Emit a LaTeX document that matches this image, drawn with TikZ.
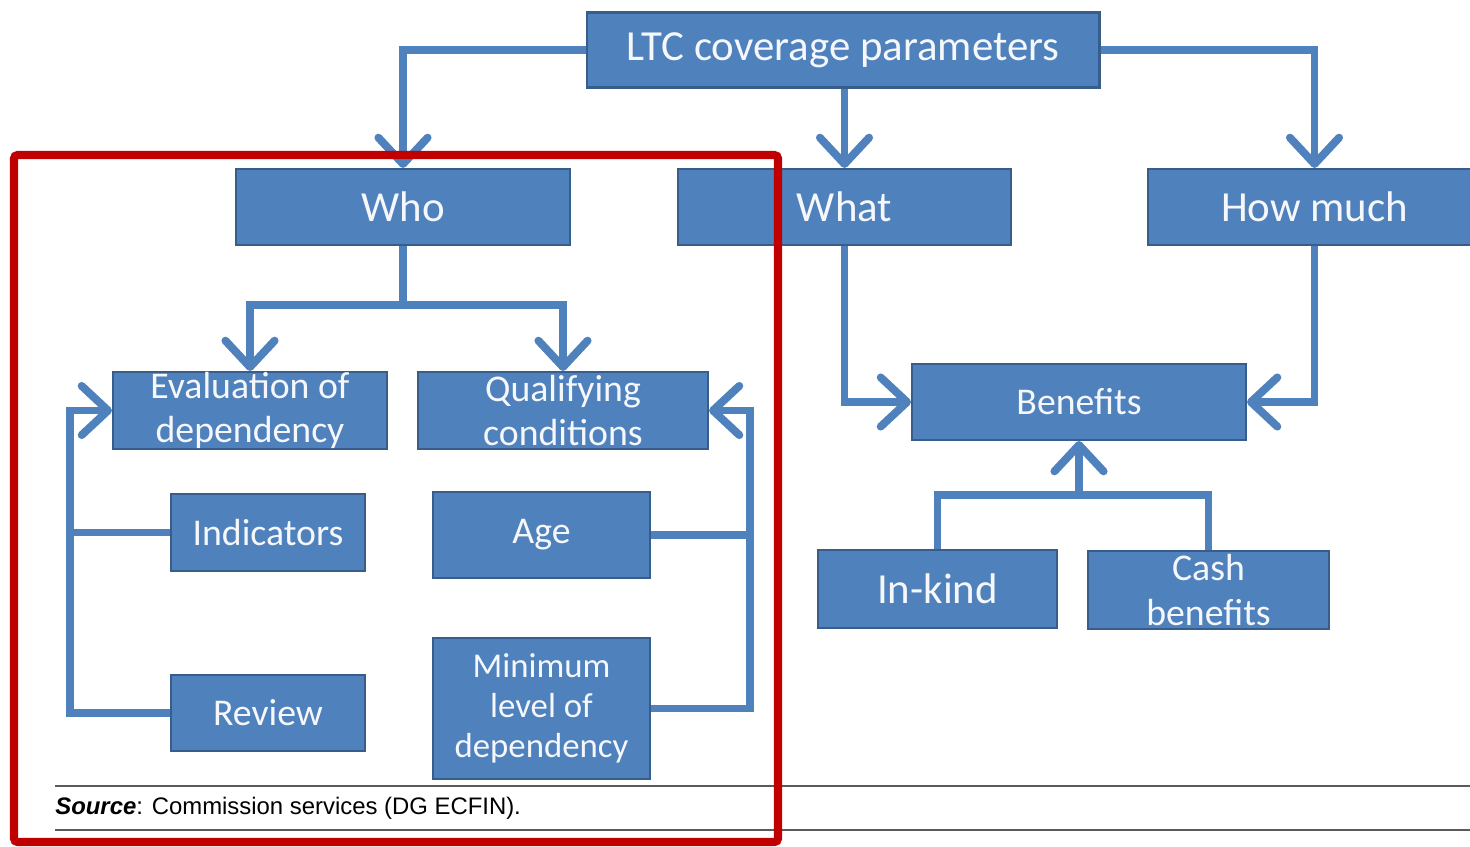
\documentclass[tikz,border=0pt]{standalone}
\usepackage{fontspec}
\setmainfont{Carlito}
\newfontfamily\srcfont{Liberation Sans}
\usetikzlibrary{arrows.meta}
\definecolor{boxblue}{HTML}{4F81BD}
\definecolor{boxedge}{HTML}{385D8A}
\definecolor{framered}{HTML}{C00000}
\definecolor{rulegray}{HTML}{5A5A5A}
\tikzset{
  box/.style={rectangle, fill=boxblue, draw=boxedge, line width=1.2pt, inner sep=0pt},
  boxtext/.style={text=white!94!boxblue, align=center, inner sep=0pt},
  big/.style={label={[boxtext,font=\fontsize{24.4}{28}\selectfont]center:#1}},
  mid/.style={label={[boxtext,font=\fontsize{21.5}{25.5}\selectfont]center:#1}},
  small/.style={label={[boxtext,font=\fontsize{19.8}{22.7}\selectfont]center:#1}},
  conn/.style={draw=boxblue, line width=4.5pt},
  arr/.style={conn, -{Straight Barb[length=15pt,width=28pt,round]}},
  rule/.style={draw=rulegray, line width=1.1pt}
}
\begin{document}
\begin{tikzpicture}[x=0.02cm, y=-0.02cm]
  \clip (0,0) rectangle (1470,846);
  \fill[white] (0,0) rectangle (1470,846);

  % top level
  \node[box, minimum width=10.26cm, minimum height=1.5cm, big={LTC coverage parameters}] (ltc) at (843,50) {};
  \node[box, minimum width=6.68cm, minimum height=1.52cm, big={Who}] (who) at (403,207) {};
  \node[box, minimum width=6.66cm, minimum height=1.52cm, big={What}] (what) at (844.5,207) {};
  \node[box, minimum width=6.66cm, minimum height=1.52cm, big={How much}] (howmuch) at (1314.5,207) {};

  % who branch
  \node[box, minimum width=5.48cm, minimum height=1.54cm, mid={Evaluation of\\dependency}] (eval) at (250,410.5) {};
  \node[box, minimum width=5.8cm, minimum height=1.54cm, mid={Qualifying\\conditions}] (qual) at (563,410.5) {};
  \node[box, minimum width=3.88cm, minimum height=1.54cm, mid={Indicators}] (indic) at (268,532.5) {};
  \node[box, minimum width=4.34cm, minimum height=1.72cm, mid={Age}] (age) at (541.5,535) {};
  \node[box, minimum width=3.88cm, minimum height=1.52cm, mid={Review}] (review) at (268,713) {};
  \node[box, minimum width=4.34cm, minimum height=2.82cm, small={Minimum\\level of\\dependency}] (minlev) at (541.5,708.5) {};

  % benefits branch
  \node[box, minimum width=6.68cm, minimum height=1.52cm, mid={Benefits}] (benefits) at (1079,402) {};
  \node[box, minimum width=4.78cm, minimum height=1.56cm, big={In-kind}] (inkind) at (937.5,589) {};
  \node[box, minimum width=4.82cm, minimum height=1.56cm, mid={Cash\\benefits}] (cash) at (1208.5,590) {};

  \coordinate (whojoin) at (403,305);
  \coordinate (benjoin) at (1079,495);
  \coordinate (lbus) at (70,410.5);
  \coordinate (rbus) at (750,410.5);

  % connectors
  \draw[arr] (ltc.west) -| (who.north);
  \draw[arr] (ltc.east) -| (howmuch.north);
  \draw[arr] (ltc.south -| what.north) -- (what.north);
  \draw[conn] (who.south) -- (whojoin);
  \draw[arr] (whojoin) -| (eval.north);
  \draw[arr] (whojoin) -| (qual.north);
  \draw[arr] (what.south) |- (benefits.west);
  \draw[arr] (howmuch.south) |- (benefits.east);
  \draw[conn] (inkind.north) |- (benjoin) -| (cash.north);
  \draw[arr] (benjoin) -- (benefits.south);
  \draw[arr] (review.west) -| (lbus) -- (eval.west);
  \draw[conn] (indic.west) -- (indic.west -| lbus);
  \draw[arr] (minlev.east) -| (rbus) -- (qual.east);
  \draw[conn] (age.east) -- (age.east -| rbus);

  % source line
  \draw[rule] (55,786) -- (1470,786);
  \draw[rule] (55,830) -- (1470,830);
  \node[anchor=west, inner sep=0pt, font=\srcfont\fontsize{13.6}{16}\selectfont] (src) at (55,808)
    {\textbf{\textit{Source}}: Commission services (DG ECFIN).};

  % highlight frame
  \draw[framered, line width=4.6pt, rounded corners=2pt] (14,155) rectangle (778,842);
\end{tikzpicture}
\end{document}
